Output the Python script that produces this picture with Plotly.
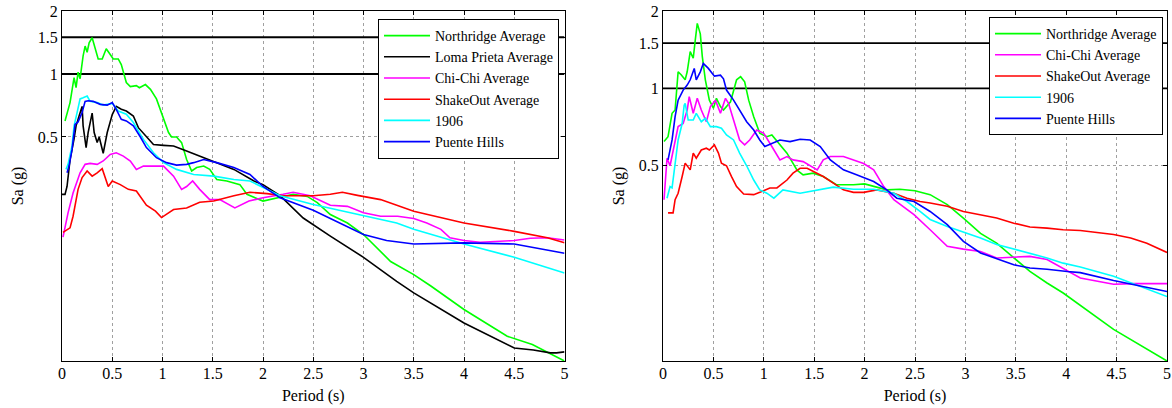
import plotly.graph_objects as go
import math

# ---------------- Left panel data ----------------
L_NR_T = [0.03,0.08,0.12,0.14,0.16,0.18,0.21,0.23,0.25,0.27,0.30,0.33,0.36,0.40,0.44,0.48,0.51,0.56,0.59,0.64,0.68,0.74,0.77,0.83,0.88,0.94,1.01,1.06,1.09,1.14,1.19,1.24,1.29,1.34,1.41,1.47,1.54,1.64,1.77,1.84,2.0,2.14,2.30,2.44,2.54,2.67,2.84,3.0,3.27,3.5,3.67,4.0,4.43,4.68,5.0]
L_NR_S = [0.596,0.73,0.96,0.86,1.02,0.95,1.22,1.36,1.27,1.41,1.49,1.34,1.18,1.18,1.32,1.24,1.18,1.18,1.11,0.91,0.87,0.88,0.86,0.89,0.845,0.76,0.607,0.525,0.50,0.50,0.47,0.39,0.344,0.357,0.363,0.35,0.313,0.308,0.296,0.266,0.247,0.256,0.266,0.26,0.243,0.213,0.194,0.171,0.127,0.110,0.097,0.0749,0.0558,0.0509,0.0425]

L_LP_T = [0.0,0.03,0.05,0.08,0.12,0.14,0.17,0.20,0.21,0.24,0.26,0.30,0.32,0.35,0.37,0.39,0.41,0.45,0.50,0.54,0.59,0.64,0.71,0.76,0.83,0.91,1.01,1.11,1.24,1.37,1.54,1.71,1.91,2.0,2.17,2.40,2.67,3.0,3.33,3.5,4.0,4.5,4.69,4.86,4.92,5.0]
L_LP_S = [0.266,0.266,0.29,0.39,0.49,0.565,0.63,0.70,0.565,0.445,0.525,0.65,0.525,0.47,0.50,0.46,0.418,0.525,0.64,0.70,0.678,0.665,0.63,0.554,0.505,0.46,0.456,0.453,0.428,0.405,0.377,0.35,0.308,0.296,0.262,0.205,0.168,0.133,0.102,0.090,0.0646,0.049,0.048,0.0465,0.0465,0.047]

L_CC_T = [0.01,0.06,0.11,0.15,0.18,0.23,0.28,0.35,0.41,0.48,0.54,0.61,0.68,0.74,0.81,0.94,1.01,1.11,1.19,1.24,1.30,1.37,1.47,1.57,1.72,1.86,2.0,2.2,2.3,2.47,2.67,2.84,3.0,3.17,3.34,3.5,3.63,3.77,3.86,4.0,4.16,4.5,4.66,4.83,5.0]
L_CC_S = [0.166,0.217,0.27,0.308,0.337,0.37,0.374,0.37,0.384,0.413,0.42,0.405,0.384,0.35,0.363,0.363,0.363,0.325,0.281,0.29,0.308,0.281,0.251,0.251,0.229,0.247,0.256,0.266,0.272,0.262,0.236,0.233,0.217,0.209,0.209,0.204,0.194,0.181,0.165,0.16,0.157,0.16,0.164,0.165,0.161]

L_SO_T = [0.01,0.08,0.11,0.14,0.16,0.20,0.25,0.30,0.35,0.40,0.42,0.46,0.50,0.58,0.66,0.74,0.84,0.93,0.99,1.04,1.11,1.24,1.37,1.51,1.71,1.87,2.04,2.2,2.34,2.5,2.67,2.79,2.94,3.17,3.5,4.0,4.5,4.83,5.0]
L_SO_S = [0.175,0.184,0.209,0.251,0.281,0.32,0.344,0.325,0.337,0.353,0.331,0.29,0.308,0.296,0.281,0.276,0.236,0.221,0.206,0.213,0.225,0.229,0.244,0.247,0.262,0.272,0.268,0.262,0.263,0.262,0.266,0.272,0.263,0.251,0.221,0.194,0.177,0.165,0.156]

L_06_T = [0.04,0.06,0.10,0.12,0.15,0.18,0.21,0.25,0.28,0.35,0.41,0.50,0.56,0.64,0.71,0.81,0.91,1.01,1.14,1.31,1.51,1.71,1.87,2.17,2.5,3.0,3.33,3.5,3.67,4.0,4.5,5.0]
L_06_S = [0.35,0.37,0.453,0.565,0.654,0.76,0.77,0.785,0.74,0.73,0.71,0.724,0.665,0.642,0.586,0.487,0.42,0.377,0.35,0.331,0.325,0.313,0.308,0.262,0.238,0.211,0.194,0.181,0.171,0.154,0.133,0.112]

L_PH_T = [0.05,0.07,0.10,0.12,0.13,0.16,0.20,0.23,0.26,0.31,0.38,0.45,0.50,0.54,0.59,0.64,0.71,0.78,0.84,0.94,1.04,1.14,1.24,1.31,1.41,1.54,1.71,1.87,2.0,2.17,2.5,3.0,3.23,3.5,3.67,4.0,4.5,4.76,5.0]
L_PH_S = [0.337,0.363,0.436,0.525,0.574,0.59,0.654,0.74,0.745,0.74,0.716,0.71,0.73,0.678,0.607,0.597,0.565,0.50,0.445,0.398,0.377,0.367,0.37,0.377,0.39,0.377,0.357,0.331,0.29,0.256,0.223,0.171,0.16,0.154,0.155,0.156,0.154,0.146,0.139]

# ---------------- Right panel data ----------------
R_NR_T = [0.01,0.05,0.09,0.12,0.15,0.18,0.22,0.24,0.27,0.30,0.32,0.34,0.37,0.39,0.42,0.46,0.50,0.53,0.57,0.60,0.67,0.73,0.77,0.81,0.85,0.90,0.96,1.03,1.08,1.15,1.23,1.33,1.39,1.49,1.59,1.72,1.89,2.0,2.1,2.22,2.35,2.50,2.65,2.82,2.98,3.15,3.31,3.48,3.64,3.81,3.97,4.47,5.0]
R_NR_S = [0.621,0.649,0.80,0.824,1.16,1.13,1.08,1.16,1.39,1.31,1.54,1.79,1.63,1.33,1.08,0.90,0.837,0.915,0.85,0.824,0.887,1.08,1.11,1.06,0.90,0.776,0.669,0.649,0.659,0.612,0.56,0.481,0.461,0.468,0.454,0.422,0.422,0.425,0.415,0.403,0.405,0.40,0.386,0.353,0.313,0.273,0.25,0.22,0.194,0.175,0.160,0.1155,0.087]

R_CC_T = [0.01,0.04,0.07,0.12,0.15,0.20,0.24,0.26,0.30,0.34,0.38,0.43,0.47,0.52,0.57,0.62,0.65,0.70,0.76,0.81,0.86,0.93,1.00,1.08,1.16,1.23,1.29,1.39,1.46,1.53,1.59,1.66,1.79,1.89,1.99,2.09,2.15,2.19,2.29,2.49,2.65,2.82,2.98,3.15,3.31,3.48,3.64,3.81,3.97,4.14,4.47,4.67,5.0]
R_CC_S = [0.369,0.535,0.50,0.63,0.71,0.73,0.824,0.928,0.80,0.915,0.824,0.742,0.85,0.90,0.80,0.915,0.875,0.753,0.63,0.603,0.63,0.689,0.669,0.594,0.527,0.543,0.527,0.519,0.50,0.482,0.527,0.543,0.543,0.527,0.51,0.482,0.44,0.415,0.369,0.323,0.282,0.243,0.237,0.232,0.219,0.221,0.222,0.216,0.199,0.183,0.173,0.174,0.174]

R_SO_T = [0.05,0.10,0.12,0.15,0.19,0.22,0.27,0.30,0.33,0.38,0.43,0.46,0.51,0.55,0.58,0.63,0.68,0.73,0.80,0.90,0.96,1.06,1.13,1.23,1.29,1.36,1.43,1.49,1.59,1.69,1.79,1.89,1.99,2.12,2.29,2.42,2.55,2.65,2.82,2.98,3.15,3.31,3.48,3.64,3.81,3.97,4.14,4.47,4.64,4.8,5.0]
R_SO_S = [0.328,0.328,0.369,0.391,0.454,0.512,0.482,0.56,0.535,0.576,0.585,0.576,0.603,0.56,0.512,0.50,0.454,0.415,0.388,0.386,0.394,0.41,0.41,0.44,0.468,0.489,0.489,0.475,0.454,0.428,0.403,0.394,0.394,0.403,0.391,0.374,0.363,0.358,0.348,0.332,0.323,0.313,0.299,0.289,0.286,0.282,0.28,0.27,0.262,0.25,0.23]

R_06_T = [0.04,0.07,0.09,0.12,0.15,0.19,0.21,0.22,0.25,0.30,0.33,0.38,0.42,0.47,0.53,0.58,0.63,0.70,0.76,0.83,0.90,0.96,1.03,1.10,1.19,1.36,1.53,1.69,1.89,2.09,2.29,2.42,2.55,2.65,2.82,2.98,3.15,3.31,3.48,3.64,3.81,3.97,4.14,4.47,5.0]
R_06_S = [0.374,0.415,0.41,0.50,0.63,0.73,0.86,0.875,0.753,0.753,0.80,0.742,0.765,0.71,0.71,0.70,0.659,0.63,0.56,0.50,0.44,0.403,0.391,0.374,0.403,0.391,0.403,0.413,0.405,0.405,0.391,0.363,0.332,0.309,0.29,0.277,0.262,0.247,0.237,0.229,0.219,0.209,0.202,0.186,0.155]

R_PH_T = [0.05,0.07,0.09,0.12,0.15,0.20,0.24,0.27,0.31,0.33,0.37,0.40,0.45,0.51,0.57,0.60,0.63,0.70,0.76,0.83,0.90,0.96,1.01,1.08,1.16,1.26,1.36,1.46,1.56,1.66,1.79,1.92,2.09,2.22,2.32,2.49,2.65,2.82,2.98,3.15,3.31,3.48,3.64,3.81,4.01,4.14,4.47,5.0]
R_PH_S = [0.527,0.576,0.63,0.776,0.90,0.985,1.03,1.08,1.196,1.08,1.16,1.25,1.196,1.116,1.126,1.09,0.985,0.90,0.824,0.742,0.689,0.63,0.594,0.612,0.63,0.621,0.634,0.63,0.594,0.527,0.482,0.461,0.434,0.403,0.374,0.363,0.332,0.295,0.254,0.229,0.217,0.206,0.2,0.198,0.194,0.192,0.179,0.162]

REF_LEVELS = [1.0, 1.5]
X_RANGE = [0, 5]
X_TICKS = [0, 0.5, 1, 1.5, 2, 2.5, 3, 3.5, 4, 4.5, 5]
X_TICKTEXT = ["0", "0.5", "1", "1.5", "2", "2.5", "3", "3.5", "4", "4.5", "5"]
Y_TICKS = [0.5, 1, 1.5, 2]
Y_TICKTEXT = ["0.5", "1", "1.5", "2"]

LEFT_SERIES = [
    ("Northridge Average", L_NR_T, L_NR_S, "#00ff00"),
    ("Loma Prieta Average", L_LP_T, L_LP_S, "#000000"),
    ("Chi-Chi Average", L_CC_T, L_CC_S, "#ff00ff"),
    ("ShakeOut Average", L_SO_T, L_SO_S, "#ff0000"),
    ("1906", L_06_T, L_06_S, "#00ffff"),
    ("Puente Hills", L_PH_T, L_PH_S, "#0000ff"),
]
RIGHT_SERIES = [
    ("Northridge Average", R_NR_T, R_NR_S, "#00ff00"),
    ("Chi-Chi Average", R_CC_T, R_CC_S, "#ff00ff"),
    ("ShakeOut Average", R_SO_T, R_SO_S, "#ff0000"),
    ("1906", R_06_T, R_06_S, "#00ffff"),
    ("Puente Hills", R_PH_T, R_PH_S, "#0000ff"),
]

W, H = 1172, 408
FONT = "Liberation Serif"
FS = 16
LFS = 14

# plot-area geometry in pixels
ML, MR, MT, MB = 62, 5, 11, 47
PW, PH = W - ML - MR, H - MT - MB
def px_x(p):
    return (p - ML) / PW
def px_y(p):
    return (H - MB - p) / PH

fig = go.Figure()
for lvl in REF_LEVELS:
    fig.add_trace(go.Scatter(x=X_RANGE, y=[lvl, lvl], mode="lines", showlegend=False, hoverinfo="skip",
                             line=dict(color="black", width=2), xaxis="x", yaxis="y"))
    fig.add_trace(go.Scatter(x=X_RANGE, y=[lvl, lvl], mode="lines", showlegend=False, hoverinfo="skip",
                             line=dict(color="black", width=1.6), xaxis="x2", yaxis="y2"))

for name, t, s, c in LEFT_SERIES:
    fig.add_trace(go.Scatter(x=t, y=s, mode="lines", name=name, line=dict(color=c, width=1.6),
                             xaxis="x", yaxis="y", legend="legend"))
for name, t, s, c in RIGHT_SERIES:
    fig.add_trace(go.Scatter(x=t, y=s, mode="lines", name=name, line=dict(color=c, width=1.6),
                             xaxis="x2", yaxis="y2", legend="legend2"))

def xax(domain, anchor):
    return dict(domain=domain, anchor=anchor, range=X_RANGE, tickvals=X_TICKS, ticktext=X_TICKTEXT,
                automargin=False,
                showgrid=True, gridcolor="#a0a0a0", griddash="dot", gridwidth=1,
                showline=True, linecolor="black", linewidth=1, mirror="ticks",
                ticks="inside", ticklen=4, tickcolor="black", zeroline=False,
                ticklabelstandoff=-2,
                tickfont=dict(family=FONT, size=FS, color="black"),
                title=dict(text="Period (s)", font=dict(family=FONT, size=FS, color="black"), standoff=8))

def yax(domain, anchor, lo):
    return dict(domain=domain, anchor=anchor, type="log", range=[math.log10(lo), math.log10(2)],
                tickvals=Y_TICKS, ticktext=Y_TICKTEXT, automargin=False,
                showgrid=True, gridcolor="#a0a0a0", griddash="dot", gridwidth=1,
                showline=True, linecolor="black", linewidth=1, mirror="ticks",
                ticks="inside", ticklen=4, tickcolor="black", zeroline=False,
                tickfont=dict(family=FONT, size=FS, color="black"),
                title=dict(text="Sa (g)", font=dict(family=FONT, size=FS, color="black"), standoff=10))

legend_common = dict(bgcolor="white", bordercolor="black", borderwidth=1,
                     font=dict(family=FONT, size=LFS, color="black"),
                     xanchor="right", yanchor="top", tracegroupgap=0, itemwidth=46)

fig.update_layout(
    width=W, height=H,
    margin=dict(l=ML, r=MR, t=MT, b=MB, autoexpand=False),
    paper_bgcolor="white", plot_bgcolor="white",
    font=dict(family=FONT, color="black"),
    xaxis=xax([0, px_x(564.5)], "y"),
    yaxis=yax([0, 1], "x", 0.0425),
    xaxis2=xax([px_x(663), 1], "y2"),
    yaxis2=yax([0, 1], "x2", 0.087),
    legend=dict(x=px_x(559), y=px_y(19), **legend_common),
    legend2=dict(x=px_x(1163), y=px_y(17), **legend_common),
    showlegend=True,
)

fig.write_html("out.html")
